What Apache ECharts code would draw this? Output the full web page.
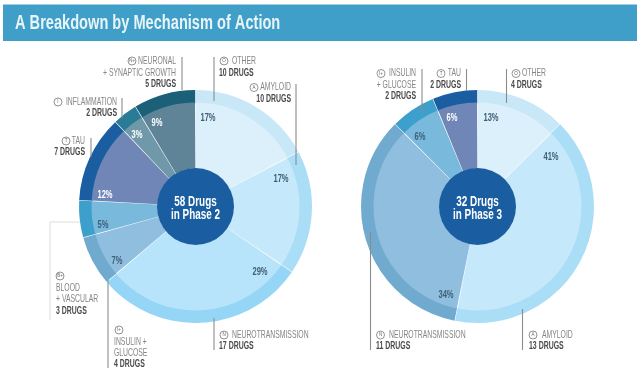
<!DOCTYPE html>
<html><head><meta charset="utf-8">
<style>html,body{margin:0;padding:0;background:#fff}#c{width:640px;height:375px}</style>
<script src="https://cdn.jsdelivr.net/npm/echarts@6/dist/echarts.min.js"></script>
</head><body><div id="c"></div>
<script>
const FONT = '"Liberation Sans",sans-serif';
const titleText = 'A Breakdown by Mechanism of Action';

const phase2Names = ['Other','Amyloid','Neurotransmission','Insulin + Glucose','Blood + Vascular','Tau','Inflammation','Neuronal + Synaptic Growth'];
const phase2Drugs = [10,10,17,4,3,7,2,5];
const phase2Pct   = ['17%','17%','29%','7%','5%','12%','3%','9%'];
const phase2Outer = ['#c8e8f8','#aaddf6','#95d6f6','#70abcf','#3d9fcb','#1a5ea1','#2a7c96','#1c5f78'];
const phase2Inner = ['#dcf0fb','#c5e8fa','#b7e4fa','#90bedf','#78b9dc','#6f86b6','#6f98a8','#5f8497'];
const phase2PctColor = ['#3f5f77','#3f5f77','#3f5f77','#3f5f77','#3f5f77','#ffffff','#ffffff','#ffffff'];
const phase2PctPos = [[208,118],[281,179],[260,272],[117,261],[103,225],[105,195],[137,135],[157,123]];

const phase3Names = ['Other','Amyloid','Neurotransmission','Insulin + Glucose','Tau'];
const phase3Drugs = [4,13,11,2,2];
const phase3Pct   = ['13%','41%','34%','6%','6%'];
const phase3Outer = ['#c8e8f8','#aaddf6','#70abcf','#3d9fcb','#1a5ea1'];
const phase3Inner = ['#dcf0fb','#c5e8fa','#90bedf','#78b9dc','#6f86b6'];
const phase3PctColor = ['#3f5f77','#3f5f77','#3f5f77','#3f5f77','#ffffff'];
const phase3PctPos = [[491,118],[551,157],[446,295],[420,137],[452,118]];

const centerLines = [['58 Drugs','in Phase 2'],['32 Drugs','in Phase 3']];
const centerTotals = [58,32];
const centerXs = [195.5,477.5];

const callouts = [
 {ic:'N+',ix:132,iy:61,tx:176,al:'right',ty:[61,73],lt:['NEURONAL','+ SYNAPTIC GROWTH'],b:'5 DRUGS',by:84,ln:[[182,57],[182,90]]},
 {ic:'O',ix:224,iy:61,tx:232,al:'left',ty:[61],lt:['OTHER'],bx:219,b:'10 DRUGS',by:73,ln:[[214,57],[214,101]]},
 {ic:'A',ix:254,iy:87.5,tx:291,al:'right',ty:[87.5],lt:['AMYLOID'],b:'10 DRUGS',by:99,ln:[[296,84],[296,165]]},
 {ic:'I',ix:58,iy:102,tx:117,al:'right',ty:[102],lt:['INFLAMMATION'],b:'2 DRUGS',by:113,ln:[[122,98],[122,118]]},
 {ic:'T',ix:66,iy:141,tx:85,al:'right',ty:[141],lt:['TAU'],b:'7 DRUGS',by:152,ln:[[91,138],[91,157]]},
 {ic:'B+',ix:60,iy:276,tx:56,al:'left',ty:[288,299],lt:['BLOOD','+ VASCULAR'],b:'3 DRUGS',by:311,ln:[[80,222],[50,222],[50,320]],pale:true},
 {ic:'I+',ix:119,iy:330,tx:114,al:'left',ty:[342,353],lt:['INSULIN +','GLUCOSE'],b:'4 DRUGS',by:364,ln:[[108,280],[108,368]]},
 {ic:'N',ix:224,iy:335,tx:232,al:'left',ty:[335],lt:['NEUROTRANSMISSION'],bx:219,b:'17 DRUGS',by:346,ln:[[214,318],[214,350]]},
 {ic:'I+',ix:381,iy:73.5,tx:416,al:'right',ty:[73.5,85],lt:['INSULIN','+ GLUCOSE'],b:'2 DRUGS',by:96,ln:[[422,69],[422,113]]},
 {ic:'T',ix:441,iy:73.5,tx:461,al:'right',ty:[73.5],lt:['TAU'],b:'2 DRUGS',by:85,ln:[[466.5,69],[466.5,90]]},
 {ic:'O',ix:516,iy:73.5,tx:522,al:'left',ty:[73.5],lt:['OTHER'],bx:511,b:'4 DRUGS',by:85,ln:[[506.5,69],[506.5,103]]},
 {ic:'N',ix:380.5,iy:335,tx:389,al:'left',ty:[335],lt:['NEUROTRANSMISSION'],bx:376,b:'11 DRUGS',by:346,ln:[[370.5,232],[370.5,350]]},
 {ic:'A',ix:533,iy:335,tx:542,al:'left',ty:[335],lt:['AMYLOID'],bx:529,b:'13 DRUGS',by:346,ln:[[522.5,309],[522.5,350]]}
];

function donut(center, names, drugs, outer, inner, total){
  const mk = cols => names.map((n,i)=>({name:n,value:drugs[i],itemStyle:{color:cols[i]}}));
  return [
   {type:'pie',center,radius:[103,116.5],startAngle:90,padAngle:0.3,silent:true,animation:false,
    label:{show:false},labelLine:{show:false},data:mk(outer)},
   {type:'pie',center,radius:[38,104],startAngle:90,padAngle:0.5,silent:true,animation:false,
    label:{show:false},labelLine:{show:false},data:mk(inner)},
   {type:'pie',center,radius:[0,38.5],silent:true,animation:false,z:5,
    label:{show:false},labelLine:{show:false},
    data:[{name:'Total',value:total,itemStyle:{color:'#1a5ea1'}}]}
  ];
}

function txt(t,x,y,font,fill,align,sx,z){
  return {type:'text',x,y,scaleX:sx,z:z||6,silent:true,
    style:{text:t,fill,font:font+' '+FONT,textAlign:align,textVerticalAlign:'middle'}};
}

const graphics = [
 {type:'rect',shape:{x:3,y:4.5,width:634,height:36.5},style:{fill:'#3f9fc9'},z:1},
 txt(titleText,15,23,'bold 20px','#e8f4f8','left',0.73)
];
callouts.forEach(c=>{
  graphics.push({type:'polyline',z:3,shape:{points:c.ln},style:{stroke:c.pale?'#d4d4d4':'#8c8c8c',lineWidth:c.pale?0.8:1.1,fill:null}});
  graphics.push({type:'circle',z:3,shape:{cx:c.ix,cy:c.iy,r:4},style:{fill:'#fff',stroke:'#777',lineWidth:0.8}});
  graphics.push(txt(c.ic,c.ix,c.iy,'5px','#666','center',0.9,4));
  c.lt.forEach((t,i)=>graphics.push(txt(t,c.tx,c.ty[i],'10.5px','#858585',c.al,0.65)));
  graphics.push(txt(c.b,c.bx!==undefined?c.bx:c.tx,c.by,'bold 10.5px','#4a4a4a',c.al,0.66));
});
[[phase2Pct,phase2PctPos,phase2PctColor],[phase3Pct,phase3PctPos,phase3PctColor]].forEach(([p,pos,col])=>{
  p.forEach((t,i)=>graphics.push(txt(t,pos[i][0],pos[i][1],'bold 10.5px',col[i],'center',0.72)));
});
centerLines.forEach((ls,k)=>{
  graphics.push(txt(ls[0],centerXs[k],201.5,'bold 15px','#ffffff','center',0.66,7));
  graphics.push(txt(ls[1],centerXs[k],215,'bold 15px','#ffffff','center',0.66,7));
});

const chart = echarts.init(document.getElementById('c'),null,{renderer:'canvas'});
chart.setOption({
  animation:false,backgroundColor:'#ffffff',
  series:[
    ...donut([centerXs[0],206.5],phase2Names,phase2Drugs,phase2Outer,phase2Inner,centerTotals[0]),
    ...donut([centerXs[1],206.5],phase3Names,phase3Drugs,phase3Outer,phase3Inner,centerTotals[1])
  ],
  graphic:graphics
});
</script></body></html>
